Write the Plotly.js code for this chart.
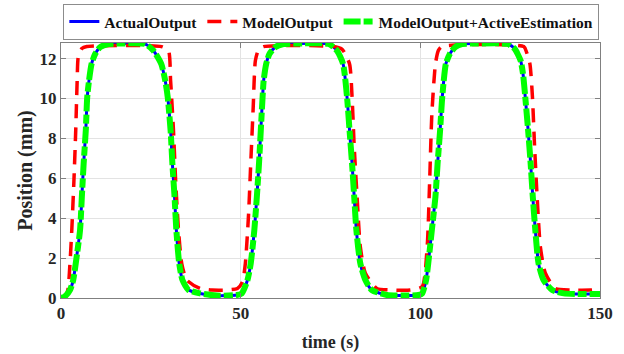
<!DOCTYPE html>
<html>
<head>
<meta charset="utf-8">
<script src="https://cdn.plot.ly/plotly-3.0.1.min.js"></script>
<style>html,body{margin:0;padding:0;background:#fff;}#chart{width:624px;height:354px;}</style>
</head>
<body>
<div id="chart"></div>
<script>
// ---- data ----
var seriesNames = ["ActualOutput", "ModelOutput", "ModelOutput+ActiveEstimation"];

var tActual = [0,1,2.5,3.4,4.1,5.3,5.8,6.3,6.9,7.3,7.8,8.5,9.5,10.9,13.2,16,
  23.4,25.7,27.9,29,29.7,30.5,31,31.6,32.1,32.9,33.8,35.5,38.7,43.4,48.9,
  50.3,51.9,52.8,53.8,54.5,55.1,55.6,56.1,56.4,57.1,58,59.6,61.9,65,
  74.5,76.8,78.5,79.6,80.3,81,81.6,82.2,83.3,84.7,86.5,90.7,95,99.5,
  100.5,101.6,102.2,103.2,104.2,104.8,105.5,106.1,107.1,108.2,109.7,111.6,115,
  124.3,126.2,127.9,128.6,129.2,130,130.7,131.3,132,132.9,134.3,136.7,139.9,145,150];
var yActual = [0,0.07,0.4,0.9,1.73,3.4,5.07,6.73,8.4,10.07,10.9,11.73,12.23,12.57,12.73,12.75,
  12.73,12.4,11.73,10.9,10.07,8.4,6.73,5.07,3.4,1.73,0.9,0.4,0.23,0.12,0.15,
  0.23,0.9,1.73,3.4,5.07,6.73,8.4,10.07,10.9,11.73,12.23,12.57,12.73,12.75,
  12.73,12.4,11.73,10.07,8.4,6.73,5.07,3.4,1.73,0.9,0.4,0.15,0.12,0.15,
  0.23,0.9,1.73,3.4,5.07,6.73,8.4,10.07,11.73,12.23,12.57,12.73,12.75,
  12.73,12.5,11.9,11.2,10.07,8.4,6.73,5.07,3.4,1.73,0.9,0.4,0.23,0.2,0.2];

var tModel = [0,1,1.9,2.5,3,3.6,4.1,4.5,4.8,5.8,7.2,28,29.9,30.5,31.3,31.9,32.7,33.6,35,38.7,42,46.2,49.1,
  50.5,51.3,52.2,52.8,53.5,54.1,55,56.4,76,78.3,80.3,81,81.6,82.4,83.3,84.7,87.9,92,97.2,100.5,
  101.9,102.6,103.2,104.2,105,106,128.8,129.6,130.5,131.2,131.8,132.5,133.4,134.8,137.6,142,147.4,150];
var yModel = [0,0.02,0.4,1.73,3.4,5.9,8.4,10.9,12.07,12.5,12.6,12.6,12.4,10.9,8.4,5.9,3.4,1.73,0.9,0.48,0.4,0.4,0.48,
  0.8,1.73,4.2,6.73,9.6,11.9,12.45,12.6,12.6,12.45,11.73,10.07,7.57,5.07,2.57,1.24,0.48,0.4,0.4,0.57,
  2.57,5.9,9.2,11.73,12.4,12.6,12.6,12.3,11.73,10.07,7.57,5.07,2.57,1.24,0.48,0.4,0.4,0.45];

var tEstimation = [0,1,2.5,3.4,4.1,5.3,5.8,6.3,6.9,7.3,7.8,8.5,9.5,10.9,13.2,16,
  23.4,25.7,27.9,29,29.7,30.5,31,31.6,32.1,32.9,33.8,35.5,38.7,43.4,48.9,
  50.3,51.9,52.8,53.8,54.5,55.1,55.6,56.1,56.4,57.1,58,59.6,61.9,65,
  74.5,76.8,78.5,79.6,80.3,81,81.6,82.2,83.3,84.7,86.5,90.7,95,99.5,
  100.5,101.6,102.2,103.2,104.2,104.8,105.5,106.1,107.1,108.2,109.7,111.6,115,
  124.3,126.2,127.9,128.6,129.2,130,130.7,131.3,132,132.9,134.3,136.7,139.9,145,150];
var yEstimation = [0,0.07,0.4,0.9,1.73,3.4,5.07,6.73,8.4,10.07,10.9,11.73,12.23,12.57,12.73,12.75,
  12.73,12.4,11.73,10.9,10.07,8.4,6.73,5.07,3.4,1.73,0.9,0.4,0.23,0.12,0.15,
  0.23,0.9,1.73,3.4,5.07,6.73,8.4,10.07,10.9,11.73,12.23,12.57,12.73,12.75,
  12.73,12.4,11.73,10.07,8.4,6.73,5.07,3.4,1.73,0.9,0.4,0.15,0.12,0.15,
  0.23,0.9,1.73,3.4,5.07,6.73,8.4,10.07,11.73,12.23,12.57,12.73,12.75,
  12.73,12.5,11.9,11.2,10.07,8.4,6.73,5.07,3.4,1.73,0.9,0.4,0.23,0.2,0.2];

var xTicks = [0, 50, 100, 150];
var yTicks = [0, 2, 4, 6, 8, 10, 12];

// ---- chart ----
var FONT = "'Liberation Serif', 'Times New Roman', serif";
var traces = [
  {x: tActual, y: yActual, name: seriesNames[0], mode: "lines",
   line: {color: "#0000ff", width: 3, shape: "spline", smoothing: 0.6}},
  {x: tModel, y: yModel, name: seriesNames[1], mode: "lines",
   line: {color: "#ff0000", width: 3.5, dash: "14px,9px", shape: "spline", smoothing: 0.6}},
  {x: tEstimation, y: yEstimation, name: seriesNames[2], mode: "lines",
   line: {color: "#00ff00", width: 6, dash: "17px,3px,9px,3px", shape: "spline", smoothing: 0.6}}
];

var axisCommon = {
  showline: true, linecolor: "#808080", linewidth: 1, mirror: "ticks",
  ticks: "inside", ticklen: 5, tickcolor: "#808080",
  showgrid: true, gridcolor: "#e3e3e3", gridwidth: 1, zeroline: false,
  tickfont: {family: FONT, size: 17, color: "#262626", weight: "bold"}
};

var layout = {
  width: 624, height: 354,
  margin: {l: 61, r: 24, t: 43, b: 56},
  paper_bgcolor: "#ffffff", plot_bgcolor: "#ffffff",
  showlegend: true,
  legend: {
    orientation: "h", xref: "container", x: 0.531, xanchor: "center",
    yref: "container", y: 0.989, yanchor: "top",
    bgcolor: "#ffffff", bordercolor: "#8c8c8c", borderwidth: 1,
    font: {family: FONT, size: 15.5, color: "#111", weight: "bold"},
    itemwidth: 30, tracegroupgap: 0
  },
  xaxis: Object.assign({}, axisCommon, {
    range: [0, 150], tickvals: xTicks, ticktext: xTicks.map(String),
    title: {text: "time (s)", font: {family: FONT, size: 18, color: "#262626", weight: "bold"}, standoff: 12}
  }),
  yaxis: Object.assign({}, axisCommon, {
    range: [0, 12.78], tickvals: yTicks, ticktext: yTicks.map(String),
    title: {text: "Position (mm)", font: {family: FONT, size: 20, color: "#262626", weight: "bold"}, standoff: 1}
  })
};

Plotly.newPlot("chart", traces, layout, {staticPlot: true, displayModeBar: false});
</script>
</body>
</html>
